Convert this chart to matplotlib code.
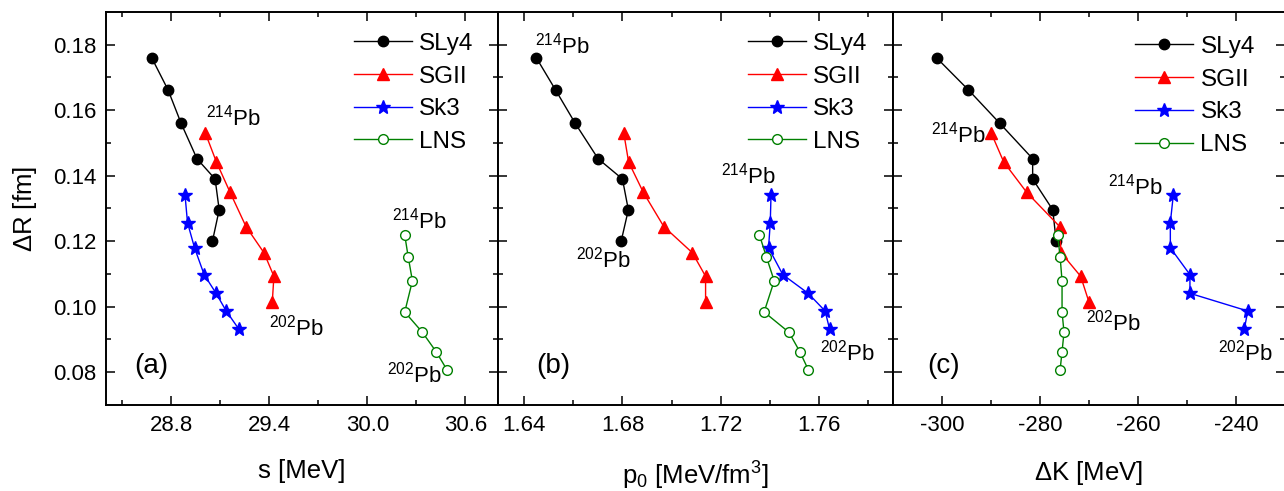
import matplotlib
matplotlib.use("Agg")
import matplotlib.pyplot as plt
from matplotlib.ticker import FixedLocator, FormatStrFormatter

plt.rcParams["font.family"] = ["Liberation Sans", "DejaVu Sans"]
plt.rcParams["mathtext.default"] = "regular"
plt.rcParams["axes.unicode_minus"] = False

# Delta R [fm] for 214Pb ... 202Pb, per interaction
dr_sly4 = [0.1760, 0.1662, 0.1560, 0.1452, 0.1390, 0.1296, 0.1201]
dr_sgii = [0.1532, 0.1442, 0.1349, 0.1245, 0.1165, 0.1093, 0.1014]
dr_sk3 = [0.1340, 0.1257, 0.1180, 0.1098, 0.1041, 0.0987, 0.0932]
dr_lns = [0.1219, 0.1153, 0.1079, 0.0984, 0.0922, 0.0863, 0.0807]

# s [MeV]
s_sly4 = [28.68, 28.78, 28.86, 28.957, 29.068, 29.093, 29.052]
s_sgii = [29.007, 29.076, 29.16, 29.257, 29.367, 29.428, 29.418]
s_sk3 = [28.884, 28.899, 28.942, 29.001, 29.074, 29.136, 29.213]
s_lns = [30.229, 30.25, 30.276, 30.229, 30.337, 30.421, 30.488]

# p0 [MeV/fm^3]
p_sly4 = [1.6450, 1.6528, 1.6608, 1.6701, 1.6800, 1.6824, 1.6795]
p_sgii = [1.6805, 1.6825, 1.6885, 1.6968, 1.7084, 1.7138, 1.7138]
p_sk3 = [1.7404, 1.7401, 1.7394, 1.7452, 1.7555, 1.7624, 1.7642]
p_lns = [1.7357, 1.7385, 1.7417, 1.7376, 1.7477, 1.7521, 1.7556]

# Delta K [MeV]
k_sly4 = [-301.1, -294.6, -288.2, -281.5, -281.5, -277.4, -276.7]
k_sgii = [-290.0, -287.4, -282.7, -276.0, -275.7, -271.7, -270.0]
k_sk3 = [-252.8, -253.4, -253.4, -249.4, -249.4, -237.6, -238.3]
k_lns = [-276.4, -275.9, -275.5, -275.5, -275.1, -275.5, -275.9]

names = ["SLy4", "SGII", "Sk3", "LNS"]
styles = [
    dict(color="black", marker="o", ms=7.5, mfc="black"),
    dict(color="red", marker="^", ms=8.5, mfc="red"),
    dict(color="blue", marker="*", ms=10, mfc="blue"),
    dict(color="green", marker="o", ms=7, mfc="white"),
]

panels = [
    dict(xs=[s_sly4, s_sgii, s_sk3, s_lns], xlim=(28.4, 30.8),
         major=[28.8, 29.4, 30.0, 30.6], minor=[28.5, 29.1, 29.7, 30.3],
         fmt="%.1f", xlabel="s [MeV]", tag="(a)", tagpos=(0.072, 0.098),
         leg=(0.632, 0.947),
         notes=[(29.01, 0.1553, "214"), (29.398, 0.0911, "202"),
                (30.154, 0.1240, "214"), (30.119, 0.0768, "202")]),
    dict(xs=[p_sly4, p_sgii, p_sk3, p_lns], xlim=(1.6294, 1.790),
         major=[1.64, 1.68, 1.72, 1.76], minor=[1.66, 1.70, 1.74, 1.78],
         fmt="%.2f", xlabel=r"p$_0$ [MeV/fm$^3$]", tag="(b)", tagpos=(0.098, 0.098),
         leg=(0.632, 0.947),
         notes=[(1.6445, 0.1773, "214"), (1.6612, 0.1121, "202"),
                (1.7201, 0.1375, "214"), (1.7604, 0.0835, "202")]),
    dict(xs=[k_sly4, k_sgii, k_sk3, k_lns], xlim=(-310, -230),
         major=[-300, -280, -260, -240], minor=[-290, -270, -250, -230],
         fmt="%d", xlabel=r"$\Delta$K [MeV]", tag="(c)", tagpos=(0.088, 0.098),
         leg=(0.617, 0.939),
         notes=[(-302.25, 0.1501, "214"), (-270.55, 0.0926, "202"),
                (-266.05, 0.1342, "214"), (-243.64, 0.0835, "202")]),
]
ys = [dr_sly4, dr_sgii, dr_sk3, dr_lns]

fig = plt.figure(figsize=(12.84, 4.91), dpi=100)
lefts = [106, 498, 893]
widths = [392, 395, 392]

for i, p in enumerate(panels):
    ax = fig.add_axes([lefts[i] / 1284, 86 / 491, widths[i] / 1284, 393 / 491])
    for xv, yv, name, st in zip(p["xs"], ys, names, styles):
        ax.plot(xv, yv, linewidth=1.0, markeredgewidth=1.0,
                markeredgecolor=st["color"], label=name, **st)

    ax.set_xlim(*p["xlim"])
    ax.set_ylim(0.07, 0.19)
    ax.xaxis.set_major_locator(FixedLocator(p["major"]))
    ax.xaxis.set_minor_locator(FixedLocator(p["minor"]))
    ax.xaxis.set_major_formatter(FormatStrFormatter(p["fmt"]))
    ax.yaxis.set_major_locator(FixedLocator([0.08, 0.10, 0.12, 0.14, 0.16, 0.18]))
    ax.yaxis.set_minor_locator(FixedLocator([0.09, 0.11, 0.13, 0.15, 0.17]))
    ax.yaxis.set_major_formatter(FormatStrFormatter("%.2f"))
    ax.tick_params(which="both", direction="in", top=True, right=True,
                   labelsize=16, width=1.1)
    ax.tick_params(which="major", length=6.5, pad=7)
    ax.tick_params(which="minor", length=3.5)
    for sp in ax.spines.values():
        sp.set_linewidth(1.4)
    if i > 0:
        ax.tick_params(labelleft=False)
    else:
        ax.set_ylabel(r"$\Delta$R [fm]", fontsize=18.5, labelpad=10)
    ax.set_xlabel(p["xlabel"], fontsize=18.5, labelpad=17)

    for nx, ny, mass in p["notes"]:
        ax.text(nx, ny, r"$^{%s}$Pb" % mass, fontsize=16, ha="left", va="baseline")
    ax.text(p["tagpos"][0], p["tagpos"][1], p["tag"], transform=ax.transAxes,
            fontsize=20, ha="left", va="center")

    ax.legend(loc="upper left", bbox_to_anchor=p["leg"], frameon=False,
              fontsize=17.5, handlelength=2.4, handletextpad=0.3,
              labelspacing=0.44, borderpad=0, borderaxespad=0, numpoints=1)

plt.savefig("out.png", dpi=100)
plt.close()
